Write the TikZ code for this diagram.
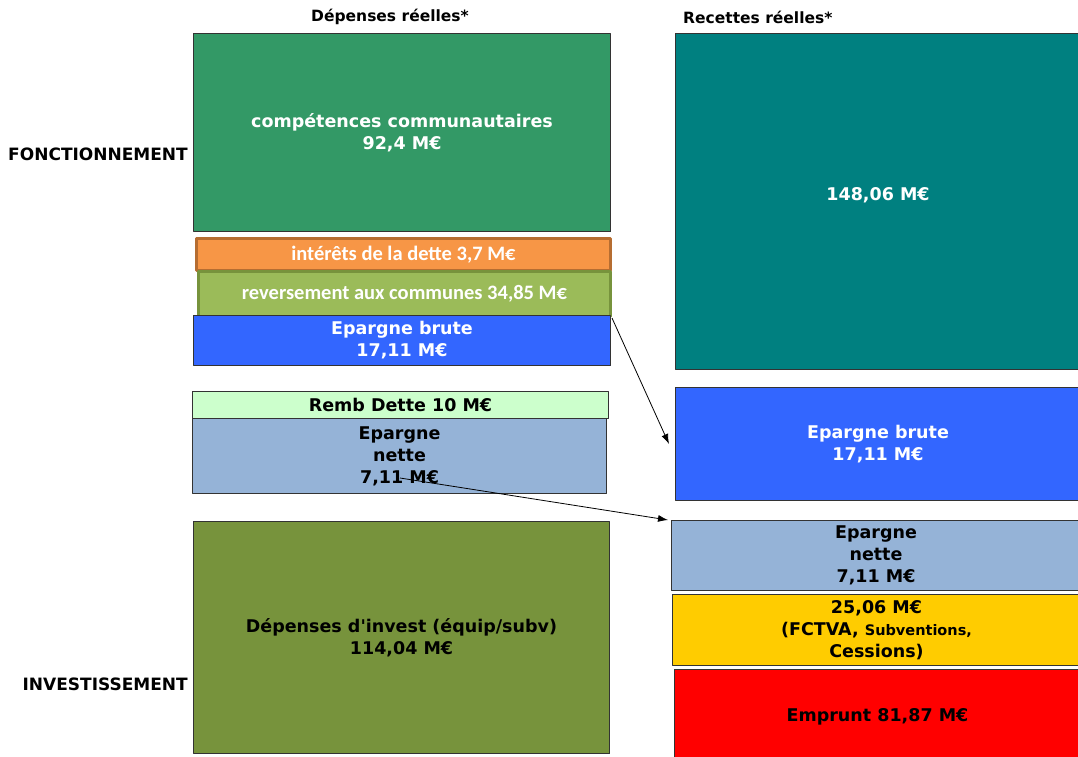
\documentclass[tikz,border=0pt]{standalone}
\usepackage{fontspec}
\setmainfont{DejaVu Sans}
\newfontfamily\calib{Carlito}
\usetikzlibrary{arrows.meta}

\definecolor{compgreen}{HTML}{339966}
\definecolor{interetorange}{HTML}{F79646}
\definecolor{interetborder}{HTML}{B66D31}
\definecolor{reversgreen}{HTML}{9BBB59}
\definecolor{reversborder}{HTML}{77933C}
\definecolor{brutblue}{HTML}{3366FF}
\definecolor{rembgreen}{HTML}{CCFFCC}
\definecolor{netteblue}{HTML}{95B3D7}
\definecolor{investgreen}{HTML}{77933C}
\definecolor{recteal}{HTML}{008080}
\definecolor{fctvayellow}{HTML}{FFCC00}
\definecolor{empruntred}{HTML}{FF0000}

\tikzset{
  bloc/.style={draw=black!80, line width=1pt, inner sep=0pt, anchor=north west,
    align=center, font=\bfseries\fontsize{17.5}{22}\selectfont},
  titre/.style={inner sep=0pt, font=\bfseries\fontsize{15.5}{18}\selectfont},
  fine/.style={font=\calib\bfseries\fontsize{20.5}{22}\selectfont, text=white, line width=3pt},
  flux/.style={-{Latex[length=10pt,width=7pt]}, line width=0.8pt},
}

\begin{document}
\begin{tikzpicture}[x=1pt, y=-1pt, line join=round]
  \useasboundingbox (0,0) rectangle (1078,756);
  % titres
  \node[titre] (depenses) at (390,17) {Dépenses réelles*};
  \node[titre, anchor=west] (recettes) at (683,17) {Recettes réelles*};
  \node[titre, font=\bfseries\fontsize{17}{18}\selectfont, anchor=east] (fonct) at (188,154) {FONCTIONNEMENT};
  \node[titre, font=\bfseries\fontsize{17}{18}\selectfont, anchor=east] (invlbl) at (188,684) {INVESTISSEMENT};
  % depenses
  \node[bloc, fill=compgreen, text=white, minimum width=417pt, minimum height=198pt] (comp) at (193,33) {compétences communautaires\\92,4 M€};
  \node[bloc, fine, fill=interetorange, draw=interetborder, minimum width=414pt, minimum height=32pt] (interets) at (195,237) {intérêts de la dette 3,7 M€};
  \node[bloc, fine, fill=reversgreen, draw=reversborder, minimum width=412pt, minimum height=45pt] (revers) at (197,270) {reversement aux communes 34,85 M€};
  \node[bloc, fill=brutblue, text=white, minimum width=417pt, minimum height=50pt] (brute) at (193,315) {Epargne brute\\17,11 M€};
  \node[bloc, fill=rembgreen, minimum width=416pt, minimum height=27pt] (remb) at (192,391) {Remb Dette 10 M€};
  \node[bloc, fill=netteblue, minimum width=414pt, minimum height=75pt] (nette) at (192,418) {Epargne\\nette\\7,11 M€};
  \node[bloc, fill=investgreen, minimum width=416pt, minimum height=232pt] (invest) at (193,521) {Dépenses d\textquotesingle invest (équip/subv)\\114,04 M€};
  % recettes
  \node[bloc, fill=recteal, text=white, minimum width=405pt, minimum height=336pt] (teal) at (675,33) {\raisebox{16pt}{148,06 M€}};
  \node[bloc, fill=brutblue, text=white, minimum width=405pt, minimum height=113pt] (rbrute) at (675,387) {Epargne brute\\17,11 M€};
  \node[bloc, fill=netteblue, minimum width=409pt, minimum height=70pt] (rnette) at (671,520) {Epargne\\nette\\7,11 M€};
  \node[bloc, fill=fctvayellow, minimum width=408pt, minimum height=71pt] (fctva) at (672,594) {25,06 M€\\(FCTVA, {\fontsize{14.5}{22}\selectfont Subventions,}\\Cessions)};
  \node[bloc, fill=empruntred, minimum width=406pt, minimum height=94pt] (emprunt) at (674,669) {Emprunt 81,87 M€};
  % fleches
  \coordinate (nettepied) at (400,478);
  \draw[flux] (revers.south east) -- ([xshift=-6pt]rbrute.west);
  \draw[flux] (nettepied) -- ([xshift=-3pt]rnette.north west);
\end{tikzpicture}
\end{document}
